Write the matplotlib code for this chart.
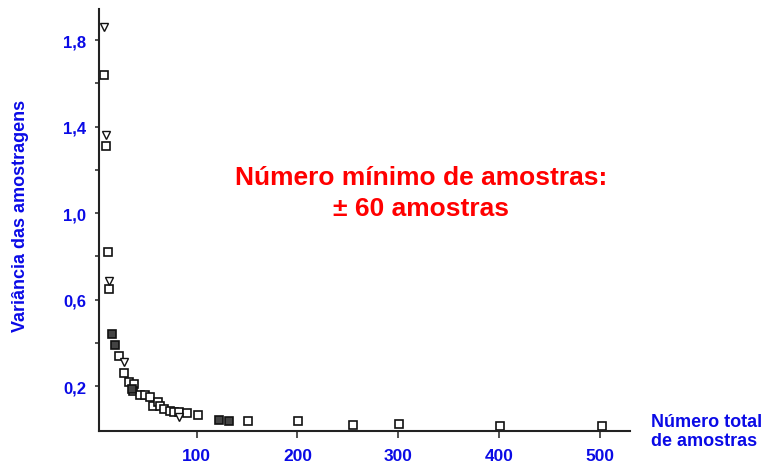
import numpy as np
import matplotlib.pyplot as plt

plt.rcParams['font.family'] = ['Liberation Sans', 'DejaVu Sans']

# dados: quadrados abertos
sq_n = [8, 10, 12, 13, 23, 28, 33, 38, 37, 44, 49, 54, 57, 62, 64, 68, 73, 77, 82,
        90, 101, 151, 201, 255, 301, 401, 502]
sq_v = [1.64, 1.31, 0.82, 0.65, 0.34, 0.26, 0.22, 0.21, 0.175, 0.16, 0.157, 0.15,
        0.107, 0.125, 0.107, 0.093, 0.084, 0.08, 0.08, 0.075, 0.065, 0.037, 0.037,
        0.02, 0.025, 0.015, 0.015]

# quadrados escuros (preenchidos)
dk_n = [16, 19, 36, 122, 132]
dk_v = [0.44, 0.39, 0.185, 0.042, 0.037]

# triângulos
tri_n = [8, 10, 13, 28, 82]
tri_v = [1.86, 1.36, 0.685, 0.31, 0.056]

yticks = [0.2, 0.4, 0.6, 0.8, 1.0, 1.2, 1.4, 1.6, 1.8]
ylabels = ['0,2', '', '0,6', '', '1,0', '', '1,4', '', '1,8']
xticks = [100, 200, 300, 400, 500]

blue = '#0a0ae6'

fig = plt.figure(figsize=(7.66, 4.64), dpi=100)
ax = fig.add_axes([0.1292, 0.069, 0.6933, 0.909])

ax.plot(sq_n, sq_v, linestyle='none', marker='s', markersize=5.5,
        markerfacecolor='white', markeredgecolor='#111111', markeredgewidth=1.2)
ax.plot(dk_n, dk_v, linestyle='none', marker='s', markersize=5.5,
        markerfacecolor='#444444', markeredgecolor='#111111', markeredgewidth=1.2)
ax.plot(tri_n, tri_v, linestyle='none', marker='v', markersize=5.5,
        markerfacecolor='white', markeredgecolor='#111111', markeredgewidth=1.0)

ax.set_xlim(3, 530)
ax.set_ylim(-0.008, 1.943)

ax.spines['top'].set_visible(False)
ax.spines['right'].set_visible(False)
for s in ['left', 'bottom']:
    ax.spines[s].set_color('#222222')
    ax.spines[s].set_linewidth(1.5)

ax.set_yticks(yticks)
ax.set_yticklabels(ylabels)
ax.set_xticks(xticks)
ax.tick_params(axis='y', direction='out', length=3, width=1.2, color='#333333',
               pad=6, labelsize=12, labelcolor=blue)
ax.tick_params(axis='x', direction='out', length=5, width=1.2, color='#333333',
               pad=7, labelsize=12.5, labelcolor=blue)
for lab in ax.get_xticklabels() + ax.get_yticklabels():
    lab.set_fontweight('bold')

fig.text(0.027, 0.535, 'Variância das amostragens', rotation=90, ha='center',
         va='center', color=blue, fontsize=13, fontweight='bold')
fig.text(0.850, 0.068, 'Número total\nde amostras', ha='left', va='center',
         color=blue, fontsize=13, fontweight='bold', linespacing=1.15)

fig.text(0.550, 0.583, 'Número mínimo de amostras:\n± 60 amostras', ha='center',
         va='center', color='#ff0000', fontsize=19, fontweight='bold',
         linespacing=1.35)

fig.savefig('out.png', dpi=100)
